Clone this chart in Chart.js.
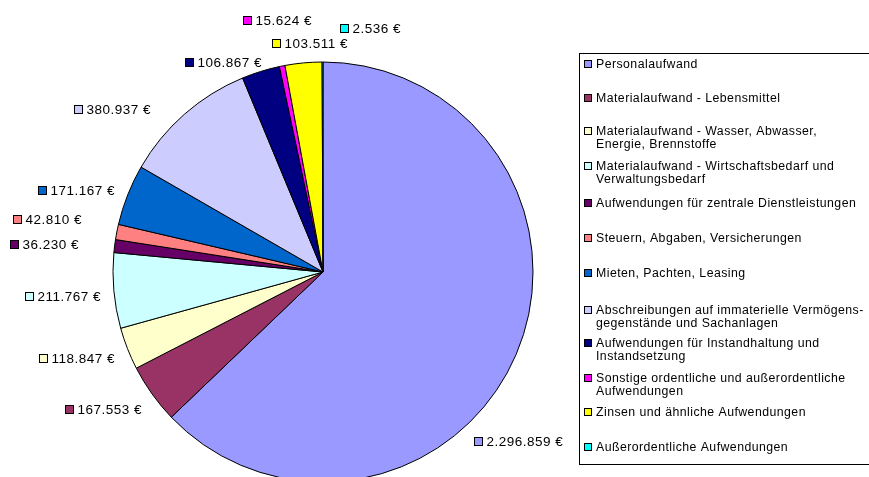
<!DOCTYPE html>
<html>
<head>
<meta charset="utf-8">
<script src="https://cdn.jsdelivr.net/npm/chart.js@4/dist/chart.umd.min.js"></script>
<style>
html,body{margin:0;padding:0;background:#fff;}
#wrap{width:869px;height:477px;position:relative;}
</style>
</head>
<body>
<div id="wrap"><canvas id="c"></canvas></div>
<script>
// ---- data ----
const categories = [
  "Personalaufwand",
  "Materialaufwand - Lebensmittel",
  "Materialaufwand - Wasser, Abwasser,\nEnergie, Brennstoffe",
  "Materialaufwand - Wirtschaftsbedarf und\nVerwaltungsbedarf",
  "Aufwendungen für zentrale Dienstleistungen",
  "Steuern, Abgaben, Versicherungen",
  "Mieten, Pachten, Leasing",
  "Abschreibungen auf immaterielle Vermögens-\ngegenstände und Sachanlagen",
  "Aufwendungen für Instandhaltung und\nInstandsetzung",
  "Sonstige ordentliche und außerordentliche\nAufwendungen",
  "Zinsen und ähnliche Aufwendungen",
  "Außerordentliche Aufwendungen"
];
const values = [2296859, 167553, 118847, 211767, 36230, 42810, 171167, 380937, 106867, 15624, 103511, 2536];
const colors = ["#9999FF", "#993366", "#FFFFCC", "#CCFFFF", "#660066", "#FF8080", "#0066CC", "#CCCCFF", "#000080", "#FF00FF", "#FFFF00", "#00FFFF"];

// ---- layout (label nudges relative to slice outer-edge midpoint, legend rows) ----
const labelNudge = [[-42,88],[-87,16],[-88,10],[-89,6],[-105,-1],[-104,-12],[-90,-4],[-110,-4],[-76,-8],[-39,-45],[-31,-19],[17,-33]];
const legendBox = {x: 579.5, y: 53.5, w: 300, h: 411};
const legendRowY = [64, 98, 131, 166, 203, 238, 273, 310, 343, 378, 412, 447];

function fmtEuro(v){
  return String(v).replace(/\B(?=(\d{3})+(?!\d))/g, '.') + ' €';
}

const labelPlugin = {
  id: 'excelLabels',
  afterDatasetsDraw(chart){
    const ctx = chart.ctx;
    const meta = chart.getDatasetMeta(0);
    const ds = chart.data.datasets[0];
    ctx.save();
    ctx.font = '13.5px "Liberation Sans", Arial, sans-serif';
    try { ctx.letterSpacing = '0.5px'; } catch(e){}
    ctx.textBaseline = 'middle';
    ctx.textAlign = 'left';
    meta.data.forEach((arc, i) => {
      const p = arc.getProps(['x','y','startAngle','endAngle','outerRadius'], true);
      const mid = (p.startAngle + p.endAngle) / 2;
      const ex = p.x + Math.cos(mid) * p.outerRadius;
      const ey = p.y + Math.sin(mid) * p.outerRadius;
      const lx = Math.round(ex + labelNudge[i][0]);
      const ly = Math.round(ey + labelNudge[i][1]);
      ctx.fillStyle = ds.backgroundColor[i];
      ctx.fillRect(lx + 0.5, ly - 4.5, 8, 8);
      ctx.strokeStyle = '#000';
      ctx.lineWidth = 1;
      ctx.strokeRect(lx + 0.5, ly - 4.5, 8, 8);
      ctx.fillStyle = '#000';
      ctx.fillText(fmtEuro(ds.data[i]), lx + 12.5, ly + 0.5);
    });
    ctx.restore();
  },
  afterDraw(chart){
    const ctx = chart.ctx;
    const ds = chart.data.datasets[0];
    ctx.save();
    ctx.strokeStyle = '#000';
    ctx.lineWidth = 1;
    ctx.strokeRect(legendBox.x, legendBox.y, legendBox.w, legendBox.h);
    ctx.font = '12.3px "Liberation Sans", Arial, sans-serif';
    try { ctx.letterSpacing = '0.45px'; } catch(e){}
    ctx.textBaseline = 'middle';
    ctx.textAlign = 'left';
    chart.data.labels.forEach((lab, i) => {
      const y = legendRowY[i];
      const mx = legendBox.x + 5;
      ctx.fillStyle = ds.backgroundColor[i];
      ctx.fillRect(mx, y - 3.5, 7, 7);
      ctx.strokeRect(mx, y - 3.5, 7, 7);
      ctx.fillStyle = '#000';
      const lines = lab.split('\n');
      lines.forEach((ln, k) => {
        ctx.fillText(ln, legendBox.x + 16.5, y + 0.5 + k * 13);
      });
    });
    ctx.restore();
  }
};

new Chart(document.getElementById('c'), {
  type: 'pie',
  data: {
    labels: categories,
    datasets: [{
      data: values,
      backgroundColor: colors,
      borderColor: '#000',
      borderWidth: 1,
      radius: 210
    }]
  },
  options: {
    responsive: true,
    maintainAspectRatio: false,
    animation: false,
    layout: { padding: { left: 0, right: 223, top: 67, bottom: 0 } },
    plugins: { legend: { display: false }, tooltip: { enabled: false } }
  },
  plugins: [labelPlugin]
});
</script>
</body>
</html>
